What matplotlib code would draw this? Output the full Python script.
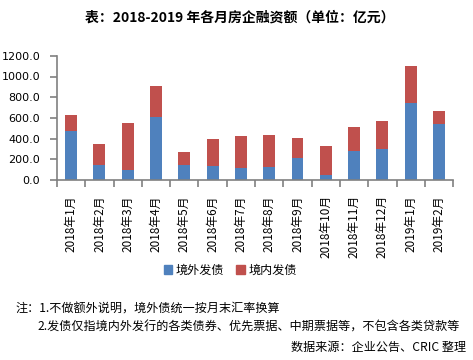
import numpy as np
import matplotlib
matplotlib.use('Agg')
import matplotlib.pyplot as plt
from matplotlib.patches import Patch

plt.rcParams['font.family'] = ['Noto Sans CJK SC', 'DejaVu Sans']

months = ['2018年1月', '2018年2月', '2018年3月', '2018年4月', '2018年5月', '2018年6月',
          '2018年7月', '2018年8月', '2018年9月', '2018年10月', '2018年11月', '2018年12月',
          '2019年1月', '2019年2月']
# 境外发债 / 境内发债 (亿元)
overseas = [472, 144, 100, 607, 144, 138, 119, 125, 215, 48, 279, 299, 741, 542]
domestic = [154, 203, 449, 298, 126, 257, 305, 308, 189, 279, 231, 269, 357, 122]

blue = '#4F81BD'
red = '#C0504D'

fig = plt.figure(figsize=(4.73, 3.6), dpi=100)
ax = fig.add_axes([0.1205, 0.5, 0.8375, 0.345])

x = np.arange(len(months))
ax.bar(x, overseas, width=0.42, color=blue, label='境外发债')
ax.bar(x, domestic, width=0.42, bottom=overseas, color=red, label='境内发债')

ax.set_xlim(-0.5, len(months) - 0.5)
ax.set_ylim(0, 1200)
ax.set_yticks(np.arange(0, 1201, 200))
ax.set_yticklabels([f'{v:.1f}' for v in np.arange(0, 1201, 200)], family='DejaVu Sans', fontsize=8)

ax.set_xticks(np.arange(-0.5, len(months), 1))
ax.set_xticklabels([])
ax.set_xticks(x, minor=True)
ax.set_xticklabels(months, minor=True, rotation=90, fontsize=8.5)
ax.tick_params(axis='x', which='minor', length=0, pad=11)
ax.tick_params(axis='x', which='major', length=5, color='#808080', width=1.2)
ax.tick_params(axis='y', length=5, color='#808080', width=1.2, pad=7)

for s in ['top', 'right']:
    ax.spines[s].set_visible(False)
for s in ['left', 'bottom']:
    ax.spines[s].set_color('#808080')
    ax.spines[s].set_linewidth(1.2)

handles = [Patch(color=blue, label='境外发债'), Patch(color=red, label='境内发债')]
fig.legend(handles=handles, loc='center', bbox_to_anchor=(0.487, 0.25), ncol=2, frameon=False,
           fontsize=8.7, handlelength=0.7, handleheight=0.7, handletextpad=0.3, columnspacing=1.0)

fig.text(0.507, 0.95, '表：2018-2019 年各月房企融资额（单位：亿元）', ha='center', va='center',
         fontsize=10, fontweight='bold')
fig.text(0.032, 0.142, '注：1.不做额外说明，境外债统一按月末汇率换算', ha='left', va='center', fontsize=8.7)
fig.text(0.08, 0.092, '2.发债仅指境内外发行的各类债券、优先票据、中期票据等，不包含各类贷款等',
         ha='left', va='center', fontsize=8.7)
fig.text(0.986, 0.035, '数据来源：企业公告、CRIC 整理', ha='right', va='center', fontsize=8.7)

fig.savefig('out.png', dpi=100)
